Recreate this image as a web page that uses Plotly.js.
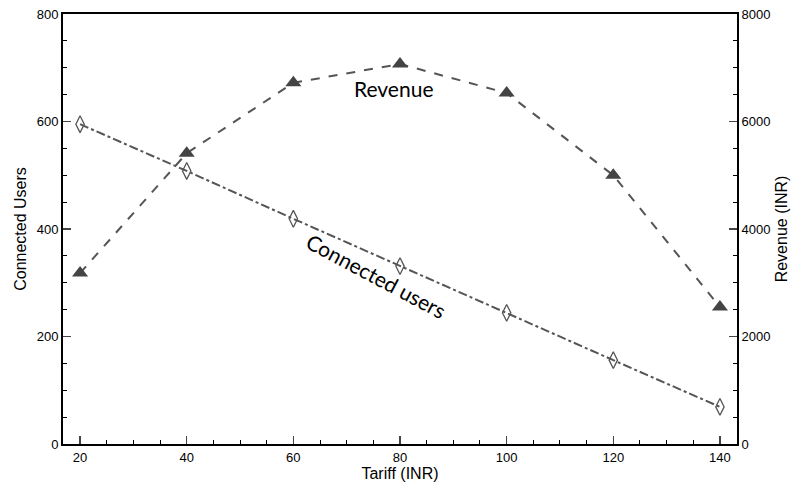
<!DOCTYPE html>
<html><head><meta charset="utf-8">
<script src="https://cdn.plot.ly/plotly-3.0.1.min.js"></script>
<style>html,body{margin:0;padding:0;background:#fff}#c{width:797px;height:490px}</style>
</head><body><div id="c"></div>
<script>
const tariff = [20, 40, 60, 80, 100, 120, 140];
const connectedUsers = [595, 508, 419, 331, 244, 156, 69];
const revenue = [3180, 5410, 6720, 7070, 6530, 5000, 2550];

const fontTick = {family: 'Liberation Sans, Arial, sans-serif', size: 13, color: '#000'};
const fontTitle = {family: 'Liberation Sans, Arial, sans-serif', size: 16, color: '#000'};
const fontNote = {family: 'Lato, Open Sans, sans-serif', size: 21, color: '#000'};

const traces = [
  {x: tariff, y: connectedUsers, type: 'scatter', mode: 'lines+markers', name: 'Connected users',
   line: {color: '#555', width: 2, dash: 'dashdot'},
   marker: {symbol: 'diamond-tall-open', size: 12, color: '#555', line: {width: 1.3, color: '#555'}},
   yaxis: 'y'},
  {x: tariff, y: revenue, type: 'scatter', mode: 'lines+markers', name: 'Revenue',
   line: {color: '#555', width: 2, dash: 'dash'},
   marker: {symbol: 'triangle-up', size: 14, color: '#444'},
   yaxis: 'y2'}
];

const layout = {
  width: 797, height: 490,
  margin: {l: 63, r: 60, t: 14, b: 46},
  paper_bgcolor: '#fff', plot_bgcolor: '#fff',
  showlegend: false,
  xaxis: {range: [16.8, 143.2], tickvals: tariff, ticks: 'inside', ticklen: 8, tickwidth: 1.5,
    showline: true, linewidth: 2, linecolor: '#000', mirror: true, showgrid: false, zeroline: false,
    tickfont: fontTick, title: {text: 'Tariff (INR)', font: fontTitle, standoff: 4},
    minor: {dtick: 5, ticks: 'inside', ticklen: 4, tickwidth: 1, tickcolor: '#000', showgrid: false}},
  yaxis: {range: [0, 800], dtick: 200, ticks: 'inside', ticklen: 8, tickwidth: 1.5,
    showline: true, linewidth: 2, linecolor: '#000', showgrid: false, zeroline: false,
    tickfont: fontTick, title: {text: 'Connected Users', font: fontTitle, standoff: 6},
    minor: {dtick: 50, ticks: 'inside', ticklen: 4, tickwidth: 1, tickcolor: '#000', showgrid: false}},
  yaxis2: {range: [0, 8000], dtick: 2000, overlaying: 'y', side: 'right', ticks: 'inside', ticklen: 8, tickwidth: 1.5,
    showline: true, linewidth: 2, linecolor: '#000', showgrid: false, zeroline: false,
    tickfont: fontTick, title: {text: 'Revenue (INR)', font: fontTitle, standoff: 6},
    minor: {dtick: 500, ticks: 'inside', ticklen: 4, tickwidth: 1, tickcolor: '#000', showgrid: false}},
  annotations: [
    {text: 'Revenue', x: 78.8, y: 6620, xref: 'x', yref: 'y2', showarrow: false, font: fontNote},
    {text: 'Connected users', x: 75.5, y: 313, xref: 'x', yref: 'y', showarrow: false, textangle: 28, font: fontNote}
  ]
};
Plotly.newPlot('c', traces, layout, {displayModeBar: false, staticPlot: true});
</script></body></html>
